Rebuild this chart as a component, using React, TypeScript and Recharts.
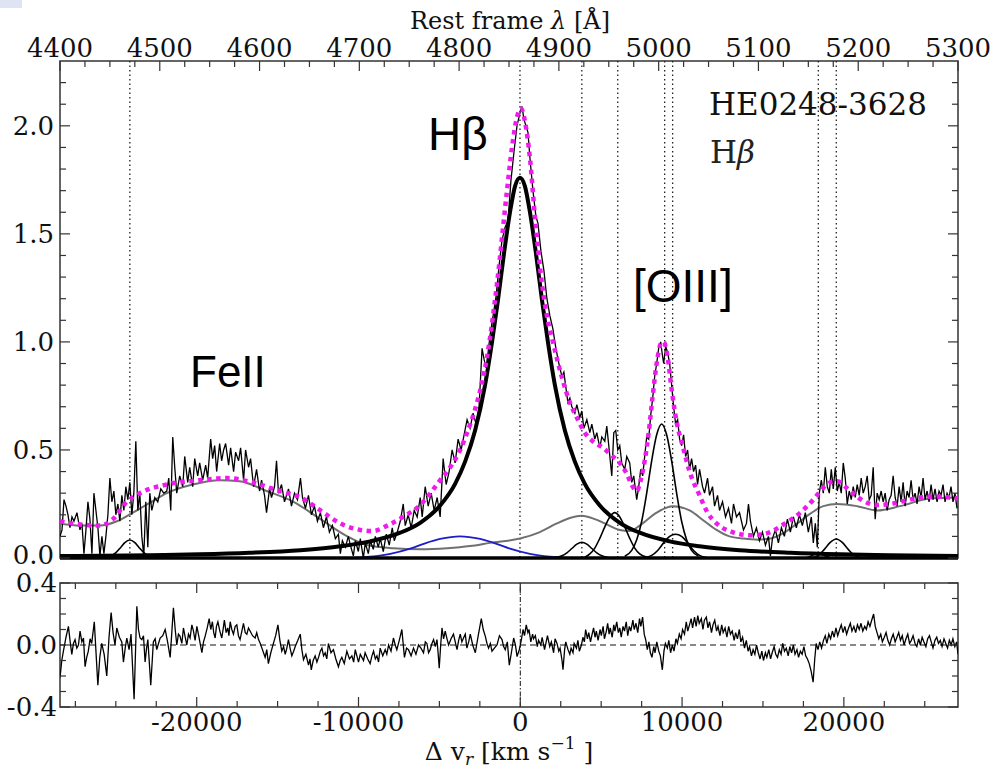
import React from 'react';
import { ComposedChart, Line, XAxis, YAxis, ReferenceLine, ReferenceArea } from 'recharts';

// ---------- data (top panel: rest-frame wavelength in Å, flux) ----------
const observed: [number, number][] = [
  [4400,0.10],[4402,0.13],[4404,0.27],[4406,0.24],[4408,0.20],[4410,0.14],[4412,0.19],[4414,0.17],[4417,0.21],[4420,0.13],
  [4422,0.16],[4424,0.02],[4426,0.13],[4428,0.26],[4430,0.18],[4432,0.02],[4434,0.30],[4436,0.22],[4438,0.14],[4440,0.01],
  [4442,0.10],[4444,0.02],[4446,0.10],[4448,0.20],[4450,0.37],[4452,0.26],[4454,0.31],[4456,0.20],[4458,0.25],[4460,0.17],
  [4462,0.29],[4464,0.22],[4466,0.33],[4468,0.27],[4470,0.35],[4472,0.20],[4474,0.30],[4476,0.54],[4478,0.22],[4480,0.30],
  [4482,0.10],[4484,0.01],[4486,0.26],[4488,0.05],[4490,0.30],[4492,0.22],[4495,0.28],[4498,0.26],[4501,0.32],[4504,0.30],
  [4507,0.31],[4509,0.37],[4511,0.22],[4513,0.56],[4515,0.42],[4517,0.30],[4520,0.38],[4523,0.33],[4525,0.47],[4528,0.35],
  [4530,0.42],[4533,0.33],[4535,0.46],[4538,0.38],[4540,0.44],[4543,0.36],[4546,0.43],[4548,0.37],[4551,0.55],[4553,0.46],
  [4555,0.52],[4557,0.40],[4560,0.53],[4562,0.45],[4564,0.50],[4566,0.53],[4569,0.43],[4571,0.51],[4574,0.40],[4576,0.49],
  [4579,0.45],[4581,0.51],[4584,0.36],[4586,0.50],[4589,0.42],[4591,0.46],[4594,0.33],[4597,0.41],[4600,0.31],[4602,0.36],
  [4605,0.29],[4607,0.21],[4610,0.32],[4612,0.28],[4615,0.33],[4617,0.45],[4619,0.30],[4622,0.34],[4625,0.26],[4629,0.32],
  [4632,0.24],[4635,0.30],[4638,0.27],[4641,0.37],[4643,0.28],[4646,0.23],[4649,0.29],[4652,0.20],[4655,0.24],[4658,0.17],
  [4661,0.21],[4664,0.14],[4667,0.19],[4670,0.12],[4673,0.15],[4676,0.09],[4679,0.11],[4681,0.02],[4683,0.08],[4686,0.05],
  [4689,0.10],[4691,0.06],[4694,0.01],[4696,0.08],[4699,0.03],[4701,0.09],[4704,0.0],[4706,0.07],[4709,0.02],[4711,0.08],
  [4714,0.04],[4716,0.10],[4719,0.05],[4721,0.09],[4724,0.03],[4727,0.11],[4730,0.06],[4733,0.14],[4735,0.08],[4738,0.12],
  [4741,0.17],[4744,0.25],[4746,0.15],[4749,0.20],[4752,0.14],[4755,0.22],[4758,0.19],[4761,0.28],[4763,0.19],[4766,0.33],
  [4769,0.24],[4772,0.30],[4775,0.22],[4778,0.28],[4781,0.19],[4784,0.46],[4787,0.34],[4790,0.40],[4793,0.50],[4796,0.44],
  [4799,0.55],[4802,0.50],[4805,0.57],[4808,0.64],[4811,0.60],[4814,0.67],[4817,0.62],[4820,0.70],[4823,0.97],[4825,0.92],
  [4827,0.88],[4829,0.95],[4831,1.03],[4834,1.12],[4837,1.21],[4840,1.35],[4843,1.47],[4846,1.53],[4849,1.56],[4852,1.75],
  [4855,1.88],[4858,2.00],[4861,2.06],[4863,2.09],[4865,2.03],[4867,2.00],[4869,1.97],[4871,1.85],[4874,1.70],[4877,1.58],
  [4879,1.55],[4882,1.42],[4885,1.33],[4888,1.20],[4891,1.12],[4894,1.06],[4897,0.97],[4900,0.90],[4903,0.84],[4905,0.86],
  [4907,0.79],[4909,0.72],[4911,0.74],[4913,0.70],[4916,0.67],[4918,0.71],[4921,0.65],[4923,0.68],[4925,0.60],[4928,0.64],
  [4931,0.58],[4933,0.62],[4936,0.55],[4938,0.58],[4941,0.51],[4943,0.56],[4946,0.54],[4948,0.61],[4950,0.52],[4953,0.38],
  [4955,0.58],[4957,0.59],[4959,0.50],[4961,0.52],[4963,0.44],[4966,0.41],[4968,0.47],[4971,0.44],[4973,0.35],[4975,0.38],
  [4978,0.27],[4980,0.33],[4982,0.41],[4984,0.38],[4986,0.47],[4988,0.56],[4990,0.55],[4992,0.66],[4994,0.74],[4996,0.84],
  [4998,0.90],[5000,0.97],[5002,1.00],[5004,0.93],[5005,0.90],[5007,0.98],[5009,0.95],[5011,0.90],[5013,0.80],[5015,0.70],
  [5017,0.62],[5019,0.64],[5021,0.55],[5023,0.52],[5025,0.57],[5027,0.47],[5029,0.50],[5031,0.41],[5033,0.46],[5035,0.40],
  [5037,0.43],[5039,0.34],[5041,0.41],[5044,0.33],[5046,0.30],[5049,0.37],[5051,0.29],[5054,0.33],[5056,0.24],[5059,0.29],
  [5061,0.22],[5064,0.26],[5067,0.19],[5070,0.23],[5073,0.16],[5075,0.25],[5078,0.19],[5081,0.21],[5085,0.13],[5088,0.16],
  [5090,0.25],[5092,0.17],[5095,0.10],[5098,0.14],[5101,0.08],[5104,0.12],[5107,0.06],[5110,0.10],[5112,0.01],[5114,0.09],
  [5117,0.13],[5120,0.07],[5123,0.14],[5126,0.10],[5129,0.18],[5132,0.12],[5135,0.19],[5138,0.14],[5141,0.20],[5144,0.15],
  [5147,0.21],[5150,0.12],[5153,0.19],[5155,0.07],[5157,0.16],[5159,0.05],[5161,0.30],[5163,0.36],[5165,0.30],[5167,0.42],
  [5169,0.33],[5171,0.30],[5173,0.41],[5175,0.32],[5177,0.42],[5179,0.31],[5181,0.35],[5183,0.30],[5185,0.44],[5187,0.37],
  [5189,0.25],[5191,0.31],[5193,0.27],[5195,0.33],[5197,0.28],[5199,0.34],[5201,0.29],[5203,0.37],[5205,0.30],[5207,0.33],
  [5209,0.38],[5211,0.27],[5213,0.29],[5215,0.42],[5217,0.18],[5219,0.30],[5221,0.27],[5223,0.31],[5225,0.26],[5227,0.30],
  [5229,0.22],[5231,0.27],[5233,0.29],[5235,0.38],[5237,0.28],[5239,0.24],[5241,0.33],[5243,0.26],[5245,0.35],[5247,0.24],
  [5249,0.31],[5251,0.28],[5253,0.36],[5255,0.27],[5257,0.30],[5259,0.25],[5261,0.33],[5263,0.28],[5265,0.37],[5267,0.27],
  [5269,0.31],[5271,0.26],[5273,0.34],[5275,0.27],[5277,0.32],[5279,0.26],[5281,0.31],[5283,0.29],[5285,0.34],[5287,0.26],
  [5289,0.30],[5291,0.28],[5293,0.33],[5295,0.26],[5297,0.30],[5299,0.23],
];

const totalFit: [number, number][] = [
  [4400,0.17],[4420,0.155],[4440,0.15],[4453,0.18],[4467,0.26],[4480,0.30],[4507,0.34],[4540,0.36],[4567,0.37],[4593,0.35],
  [4620,0.31],[4641,0.28],[4661,0.22],[4681,0.16],[4701,0.13],[4714,0.125],[4728,0.15],[4744,0.19],[4761,0.245],[4781,0.36],
  [4791,0.42],[4801,0.50],[4808,0.58],[4818,0.72],[4828,0.93],[4838,1.27],[4848,1.70],[4853,1.90],[4858,2.04],[4862,2.08],
  [4866,2.02],[4871,1.85],[4876,1.58],[4883,1.27],[4888,1.12],[4894,1.00],[4904,0.82],[4911,0.72],[4918,0.65],[4926,0.58],
  [4934,0.54],[4944,0.51],[4954,0.47],[4961,0.44],[4968,0.39],[4974,0.33],[4978,0.31],[4982,0.36],[4986,0.45],[4990,0.58],
  [4994,0.75],[4998,0.90],[5002,0.99],[5005,1.00],[5009,0.93],[5013,0.78],[5018,0.63],[5024,0.52],[5031,0.40],[5041,0.29],
  [5049,0.21],[5058,0.16],[5074,0.12],[5092,0.105],[5109,0.115],[5125,0.155],[5142,0.21],[5155,0.27],[5164,0.32],[5172,0.35],
  [5179,0.355],[5187,0.33],[5197,0.29],[5207,0.26],[5217,0.245],[5232,0.25],[5247,0.265],[5262,0.28],[5277,0.285],[5292,0.28],
  [5300,0.275],
];

const broadHb: [number, number][] = [
  [4400,0.009],[4440,0.010],[4490,0.013],[4540,0.017],[4590,0.024],[4641,0.036],[4681,0.054],[4711,0.077],[4741,0.117],[4761,0.163],
  [4781,0.243],[4796,0.343],[4806,0.446],[4816,0.59],[4826,0.80],[4833,1.00],[4839,1.195],[4845,1.41],[4851,1.60],[4856,1.72],
  [4861,1.76],[4866,1.72],[4871,1.60],[4877,1.41],[4883,1.195],[4889,1.00],[4896,0.80],[4906,0.59],[4916,0.446],[4926,0.343],
  [4941,0.243],[4961,0.163],[4981,0.117],[5011,0.077],[5041,0.054],[5081,0.036],[5132,0.024],[5182,0.017],[5232,0.013],[5300,0.009],
];

const feIITemplate: [number, number][] = [
  [4400,0.16],[4420,0.15],[4440,0.15],[4457,0.17],[4473,0.21],[4490,0.255],[4507,0.30],[4533,0.34],[4560,0.36],[4580,0.355],
  [4607,0.31],[4634,0.26],[4661,0.18],[4688,0.10],[4708,0.06],[4734,0.045],[4761,0.04],[4788,0.045],[4811,0.055],[4831,0.07],
  [4861,0.09],[4881,0.12],[4898,0.16],[4911,0.185],[4923,0.196],[4936,0.18],[4946,0.16],[4961,0.13],[4971,0.125],[4981,0.15],
  [4998,0.21],[5014,0.24],[5031,0.22],[5046,0.17],[5058,0.13],[5071,0.10],[5085,0.09],[5099,0.085],[5112,0.09],[5125,0.115],
  [5139,0.16],[5152,0.205],[5165,0.24],[5179,0.25],[5199,0.24],[5219,0.22],[5242,0.24],[5272,0.275],[5300,0.28],
];

const blueHb: [number, number][] = [
  [4691,0.0],[4711,0.006],[4731,0.019],[4751,0.043],[4766,0.068],[4781,0.088],[4801,0.10],[4821,0.088],[4836,0.068],[4851,0.043],
  [4871,0.019],[4891,0.006],[4911,0.0],
];

const heI4471: [number, number][] = [
  [4443,0.001],[4450,0.007],[4456,0.025],[4461,0.05],[4465,0.071],[4470,0.083],[4475,0.071],[4479,0.05],[4484,0.025],[4490,0.007],[4497,0.001],
];
const heI4922: [number, number][] = [
  [4896,0.002],[4903,0.01],[4908,0.024],[4913,0.044],[4918,0.064],[4923,0.073],[4928,0.064],[4933,0.044],[4938,0.024],[4943,0.01],[4950,0.002],
];
const oiii4959: [number, number][] = [
  [4926,0.004],[4931,0.019],[4936,0.046],[4941,0.091],[4946,0.144],[4951,0.19],[4956,0.21],[4961,0.19],[4966,0.144],[4971,0.091],
  [4976,0.046],[4981,0.019],[4988,0.004],
];
const oiii5007: [number, number][] = [
  [4966,0.008],[4973,0.035],[4978,0.084],[4983,0.17],[4988,0.30],[4993,0.45],[4998,0.57],[5003,0.62],[5008,0.57],[5013,0.45],
  [5018,0.30],[5023,0.17],[5028,0.084],[5033,0.035],[5040,0.008],
];
const heI5016: [number, number][] = [
  [4986,0.002],[4993,0.012],[4999,0.035],[5005,0.07],[5011,0.10],[5017,0.11],[5023,0.10],[5029,0.07],[5035,0.035],[5041,0.012],[5048,0.002],
];
const feII5160: [number, number][] = [
  [5147,0.0],[5154,0.012],[5160,0.025],[5166,0.012],[5173,0.0],
];
const feII5178: [number, number][] = [
  [5154,0.002],[5160,0.012],[5166,0.04],[5172,0.072],[5178,0.088],[5184,0.072],[5190,0.04],[5196,0.012],[5202,0.002],
];

const lineMarkers = [4470, 4861, 4923, 4959, 5006, 5014, 5160, 5178];

// ---------- bottom panel: velocity (km/s), residual ----------
const residual: [number, number][] = [
  [-28450,-0.21],[-28340,-0.10],[-28240,-0.04],[-28080,0.05],[-27930,0.12],[-27820,0.02],[-27720,-0.06],[-27620,0.01],[-27520,0.035],[-27410,-0.02],
  [-27310,0.0],[-27210,0.09],[-27100,0.02],[-27000,0.045],[-26900,-0.14],[-26800,-0.08],[-26700,-0.04],[-26590,0.04],[-26490,0.01],[-26330,0.15],
  [-26110,-0.26],[-25990,-0.08],[-25870,0.01],[-25720,-0.06],[-25560,-0.2],[-25420,0.05],[-25290,0.21],[-25170,0.08],[-25050,0.0],[-24940,0.11],
  [-24780,0.05],[-24630,0.02],[-24530,-0.11],[-24420,-0.02],[-24320,0.045],[-24180,-0.03],[-24060,0.07],[-23870,-0.35],[-23700,0.25],[-23600,0.10],
  [-23500,0.045],[-23390,0.035],[-23290,0.06],[-23190,-0.11],[-23100,-0.02],[-23020,0.035],[-22840,-0.26],[-22680,0.02],[-22570,0.04],[-22470,-0.03],
  [-22360,0.01],[-22260,0.045],[-22100,0.06],[-21950,0.10],[-21800,0.02],[-21640,-0.08],[-21440,0.24],[-21330,0.10],[-21230,0.0],[-21130,0.07],
  [-21030,0.056],[-20920,0.01],[-20820,0.11],[-20710,0.05],[-20610,0.0],[-20510,0.07],[-20410,0.045],[-20300,0.13],[-20200,0.09],[-20100,0.03],
  [-19990,0.12],[-19840,0.04],[-19680,-0.05],[-19580,0.02],[-19480,0.056],[-19350,0.11],[-19230,0.17],[-19130,0.10],[-19030,0.15],[-18950,0.08],
  [-18860,0.045],[-18780,0.12],[-18690,0.15],[-18570,0.09],[-18450,0.045],[-18370,0.10],[-18290,0.16],[-18180,0.08],[-18080,0.11],[-18010,0.06],
  [-17930,0.15],[-17830,0.10],[-17730,0.07],[-17620,0.12],[-17520,0.13],[-17420,0.06],[-17320,0.035],[-17210,0.09],[-17110,0.14],[-17000,0.08],
  [-16900,0.07],[-16800,0.11],[-16700,0.09],[-16550,0.06],[-16390,0.045],[-16290,0.08],[-16180,0.035],[-16070,0.01],[-15970,-0.02],[-15870,-0.05],
  [-15770,-0.08],[-15670,-0.03],[-15570,-0.12],[-15420,-0.05],[-15260,0.01],[-15120,0.06],[-14980,0.13],[-14860,0.03],[-14740,-0.04],[-14630,-0.01],
  [-14530,-0.06],[-14430,-0.02],[-14330,0.035],[-14230,-0.02],[-14120,-0.07],[-14010,-0.04],[-13910,-0.01],[-13750,0.03],[-13600,0.07],[-13500,-0.03],
  [-13400,-0.095],[-13250,-0.06],[-13090,-0.13],[-13000,-0.09],[-12920,-0.16],[-12800,-0.10],[-12680,-0.07],[-12570,-0.11],[-12470,-0.08],[-12360,-0.04],
  [-12260,-0.02],[-12160,-0.07],[-12060,-0.05],[-11960,-0.09],[-11860,0.01],[-11700,-0.05],[-11550,-0.03],[-11400,-0.09],[-11240,-0.14],[-11130,-0.10],
  [-11030,-0.08],[-10880,-0.12],[-10720,-0.04],[-10560,-0.09],[-10410,-0.07],[-10300,-0.11],[-10200,-0.03],[-10100,-0.07],[-10000,-0.11],[-9890,-0.06],
  [-9790,-0.08],[-9690,-0.10],[-9590,-0.05],[-9430,-0.09],[-9280,-0.12],[-9170,-0.07],[-9070,-0.04],[-8960,-0.09],[-8860,-0.07],[-8760,-0.11],
  [-8660,-0.02],[-8500,-0.07],[-8350,-0.03],[-8250,-0.06],[-8140,0.0],[-7990,-0.04],[-7840,0.045],[-7730,0.0],[-7630,-0.03],[-7480,0.03],
  [-7320,0.10],[-7240,0.01],[-7160,-0.08],[-7030,-0.02],[-6910,-0.03],[-6750,-0.07],[-6600,-0.02],[-6450,-0.06],[-6290,0.0],[-6140,-0.02],
  [-5980,-0.05],[-5870,0.02],[-5770,0.01],[-5670,-0.05],[-5570,-0.03],[-5460,0.01],[-5360,0.035],[-5250,-0.01],[-5150,0.035],[-5080,-0.05],
  [-5010,-0.15],[-4920,0.0],[-4840,0.11],[-4740,0.04],[-4640,0.09],[-4530,0.04],[-4430,0.0],[-4280,0.04],[-4130,0.07],[-4020,0.02],
  [-3910,-0.03],[-3810,0.03],[-3710,0.07],[-3610,0.02],[-3510,0.045],[-3400,0.07],[-3300,-0.02],[-3190,0.02],[-3090,0.07],[-2940,0.0],
  [-2780,-0.05],[-2600,0.06],[-2410,0.17],[-2290,0.10],[-2160,0.056],[-2060,0.01],[-1960,-0.02],[-1850,0.01],[-1750,-0.04],[-1600,-0.02],
  [-1440,0.0],[-1290,0.06],[-1130,0.035],[-1030,-0.01],[-930,-0.03],[-800,0.02],[-680,-0.13],[-550,-0.05],[-410,0.045],[-300,0.0],
  [-200,-0.075],[-60,-0.03],
  [60,0.03],[170,0.10],[260,0.06],[370,0.13],[470,0.08],[540,0.10],[650,0.02],[760,0.07],[820,0.04],[930,0.06],
  [1050,-0.01],[1130,0.03],[1270,0.0],[1350,0.05],[1500,-0.03],[1600,0.02],[1680,0.06],[1820,-0.01],[1920,0.02],[2060,-0.05],
  [2150,0.04],[2270,0.01],[2380,-0.04],[2460,-0.02],[2580,-0.10],[2640,-0.16],[2740,-0.03],[2810,0.02],[2950,-0.03],[3060,-0.06],
  [3140,-0.02],[3260,-0.05],[3330,0.01],[3470,-0.02],[3560,0.03],[3650,-0.04],[3780,0.0],[3870,0.05],[3960,0.02],[4040,0.10],
  [4150,0.04],[4230,0.08],[4340,0.02],[4420,0.06],[4530,0.11],[4620,0.05],[4700,0.09],[4810,0.03],[4930,0.10],[5010,0.06],
  [5120,0.12],[5200,0.04],[5320,0.09],[5400,0.14],[5490,0.07],[5560,0.11],[5680,0.05],[5780,0.13],[5850,0.09],[5960,0.15],
  [6060,0.08],[6150,0.11],[6240,0.05],[6350,0.12],[6440,0.09],[6550,0.15],[6640,0.06],[6740,0.12],[6830,0.09],[6960,0.16],
  [7040,0.10],[7150,0.14],[7260,0.08],[7370,0.17],[7450,0.12],[7560,0.18],[7660,0.07],[7760,0.03],[7850,-0.03],[7950,0.02],
  [8040,-0.05],[8140,-0.08],[8250,-0.01],[8330,-0.05],[8440,0.02],[8560,-0.04],[8660,-0.07],[8780,-0.16],[8880,-0.04],[8970,0.01],
  [9090,-0.02],[9180,0.03],[9290,-0.05],[9400,0.0],[9500,-0.04],[9620,0.04],[9710,0.01],[9830,0.07],[9940,0.04],[10030,0.10],
  [10150,0.07],[10260,0.15],[10350,0.09],[10460,0.13],[10560,0.17],[10650,0.11],[10770,0.18],[10870,0.12],[10970,0.19],[11060,0.14],
  [11190,0.17],[11290,0.10],[11380,0.16],[11500,0.18],[11600,0.11],[11700,0.15],[11820,0.08],[11910,0.13],[12020,0.16],[12130,0.09],
  [12220,0.12],[12340,0.06],[12450,0.13],[12540,0.08],[12660,0.11],[12770,0.05],[12880,0.12],[12990,0.07],[13100,0.09],[13220,0.03],
  [13310,0.08],[13420,0.04],[13540,0.10],[13630,0.02],[13740,0.05],[13860,-0.02],[13970,0.03],[14080,-0.04],[14170,-0.01],[14290,-0.07],
  [14390,-0.03],[14500,-0.06],[14600,0.0],[14710,-0.05],[14820,-0.09],[14930,-0.04],[15030,-0.10],[15150,-0.05],[15240,-0.08],[15360,-0.03],
  [15470,-0.09],[15570,-0.05],[15690,-0.01],[15790,-0.06],[15900,-0.08],[16010,-0.03],[16120,-0.06],[16220,0.01],[16330,-0.04],[16440,-0.02],
  [16560,-0.07],[16660,-0.01],[16770,-0.05],[16880,0.0],[16980,-0.06],[17100,-0.03],[17200,-0.08],[17310,-0.04],[17420,-0.06],[17530,-0.01],
  [17640,-0.07],[17750,-0.09],[17860,-0.12],[17980,-0.17],[18100,-0.24],[18200,-0.09],[18290,0.01],[18400,-0.03],[18510,0.02],[18620,-0.02],
  [18740,0.03],[18850,0.06],[18950,0.01],[19070,0.07],[19180,0.04],[19290,0.09],[19400,0.05],[19510,0.11],[19620,0.06],[19740,0.10],
  [19840,0.13],[19950,0.08],[20060,0.12],[20170,0.07],[20290,0.11],[20400,0.14],[20500,0.09],[20620,0.12],[20730,0.08],[20840,0.13],
  [20950,0.10],[21060,0.14],[21170,0.09],[21290,0.12],[21390,0.10],[21500,0.15],[21610,0.12],[21720,0.16],[21840,0.20],[21940,0.12],
  [22050,0.08],[22160,0.04],[22280,0.07],[22380,0.02],[22500,0.05],[22610,0.08],[22720,0.03],[22830,0.0],[22940,0.04],[23050,0.07],
  [23170,0.02],[23280,0.05],[23390,0.08],[23500,0.03],[23610,0.06],[23720,0.0],[23840,0.04],[23950,0.07],[24060,0.01],[24170,0.03],
  [24280,0.06],[24400,0.01],[24510,-0.01],[24620,0.04],[24730,0.0],[24840,0.05],[24950,0.02],[25070,-0.01],[25180,0.04],[25290,0.06],
  [25400,0.02],[25510,-0.02],[25630,0.03],[25740,0.05],[25850,0.01],[25960,0.03],[26070,-0.01],[26190,0.04],[26300,0.01],[26410,-0.02],
  [26520,0.03],[26630,0.0],[26740,0.04],[26860,-0.01],[26970,0.02],[27055,-0.06],
];

// ---------- ticks ----------
const lambdaTicks = [4400,4425,4450,4475,4500,4525,4550,4575,4600,4625,4650,4675,4700,4725,4750,4775,4800,4825,4850,4875,
  4900,4925,4950,4975,5000,5025,5050,5075,5100,5125,5150,5175,5200,5225,5250,5275,5300];
const fluxTicks = [0,0.1,0.2,0.3,0.4,0.5,0.6,0.7,0.8,0.9,1.0,1.1,1.2,1.3,1.4,1.5,1.6,1.7,1.8,1.9,2.0,2.1,2.2];
const velocityTicks = [-27500,-25000,-22500,-20000,-17500,-15000,-12500,-10000,-7500,-5000,-2500,0,2500,5000,7500,10000,
  12500,15000,17500,20000,22500,25000];
const residualTicks = [-0.4,-0.3,-0.2,-0.1,0,0.1,0.2,0.3,0.4];

const LAMBDA_DOMAIN: [number, number] = [4400, 5300];
const FLUX_DOMAIN: [number, number] = [0, 2.3];
const VELOCITY_DOMAIN: [number, number] = [-28450, 27055];
const RESIDUAL_DOMAIN: [number, number] = [-0.4, 0.4];

// ---------- layout / style ----------
const SERIF = '"DejaVu Serif", serif';
const SANS = '"Liberation Sans", Arial, sans-serif';
const TICK_FONT = 26;
const PLOT_R = 958;
const RES_T = 23;
const FRAME = '#333';
const TXT = '#111';

const pts = (a: [number, number][]) => a.map(([x, y]) => ({ x, y }));

function LambdaTick(props: any) {
  const { x, y, payload } = props;
  const v = payload.value as number;
  const major = v % 100 === 0;
  const edge = y + 4;
  return (
    <g>
      {major && (
        <text x={x} y={y} textAnchor="middle" fontFamily={SERIF} fontSize={TICK_FONT} fill={TXT}>{String(v)}</text>
      )}
      <line x1={x} x2={x} y1={edge} y2={edge + (major ? 10 : 6)} stroke={FRAME} strokeWidth={1.2} />
    </g>
  );
}

function FluxTick(props: any) {
  const { x, y, payload } = props;
  const v = payload.value as number;
  const major = Math.abs(v * 2 - Math.round(v * 2)) < 1e-6;
  const edge = x + 6;
  const len = major ? 10 : 6;
  const lift = v === 0 ? -3 : 0;
  return (
    <g>
      {major && (
        <text x={x} y={y + 9 + lift} textAnchor="end" fontFamily={SERIF} fontSize={TICK_FONT} fill={TXT}>{v.toFixed(1)}</text>
      )}
      <line x1={edge} x2={edge + len} y1={y} y2={y} stroke={FRAME} strokeWidth={1.2} />
      <line x1={PLOT_R - len} x2={PLOT_R} y1={y} y2={y} stroke={FRAME} strokeWidth={1.2} />
    </g>
  );
}

function VelocityTick(props: any) {
  const { x, y, payload } = props;
  const v = payload.value as number;
  const major = v % 10000 === 0;
  const bottom = y - 6;
  const len = major ? 10 : 6;
  return (
    <g>
      {major && (
        <text x={x} y={y + 18} textAnchor="middle" fontFamily={SERIF} fontSize={TICK_FONT} fill={TXT}>{String(v)}</text>
      )}
      <line x1={x} x2={x} y1={bottom} y2={bottom - len} stroke={FRAME} strokeWidth={1.2} />
      <line x1={x} x2={x} y1={RES_T} y2={RES_T + len} stroke={FRAME} strokeWidth={1.2} />
    </g>
  );
}

function ResidualTick(props: any) {
  const { x, y, payload } = props;
  const v = payload.value as number;
  const major = Math.abs(v * 2.5 - Math.round(v * 2.5)) < 1e-6;
  const edge = x + 6;
  const len = major ? 10 : 6;
  return (
    <g>
      {major && (
        <text x={x + 3} y={y + 9} textAnchor="end" fontFamily={SERIF} fontSize={TICK_FONT} fill={TXT}>{v.toFixed(1)}</text>
      )}
      <line x1={edge} x2={edge + len} y1={y} y2={y} stroke={FRAME} strokeWidth={1.2} />
      <line x1={PLOT_R - len} x2={PLOT_R} y1={y} y2={y} stroke={FRAME} strokeWidth={1.2} />
    </g>
  );
}

const thin = { stroke: '#000', strokeWidth: 1.6, dot: false, activeDot: false, isAnimationActive: false, type: 'monotone' as const };
const components = [heI4471, heI4922, oiii4959, oiii5007, heI5016, feII5160, feII5178];

export default function App() {
  return (
    <div style={{ position: 'absolute', left: 0, top: 0, width: 995, height: 770, background: '#fff', overflow: 'hidden' }}>
      <div style={{ position: 'absolute', left: 0, top: 0 }}>
        <ComposedChart width={995} height={578} margin={{ top: 0, right: 0, bottom: 20, left: 0 }}>
          <XAxis
            xAxisId="lam"
            dataKey="x"
            type="number"
            orientation="top"
            domain={LAMBDA_DOMAIN}
            allowDataOverflow
            ticks={lambdaTicks}
            interval={0}
            height={61}
            tickSize={0}
            tickMargin={4}
            tickLine={false}
            axisLine={false}
            tick={<LambdaTick />}
          />
          <YAxis
            yAxisId="flux"
            type="number"
            domain={FLUX_DOMAIN}
            allowDataOverflow
            ticks={fluxTicks}
            interval={0}
            width={60}
            tickSize={0}
            tickMargin={6}
            tickLine={false}
            axisLine={false}
            tick={<FluxTick />}
          />
          <YAxis yAxisId="right" orientation="right" width={37} type="number" domain={FLUX_DOMAIN} tick={false} tickLine={false} axisLine={false} />
          {lineMarkers.map((l) => (
            <ReferenceLine key={l} xAxisId="lam" yAxisId="flux" x={l} stroke="#222" strokeWidth={1.3} strokeDasharray="1.5 3" />
          ))}
          <Line xAxisId="lam" yAxisId="flux" data={pts(feIITemplate)} dataKey="y" stroke="#707070" strokeWidth={2} dot={false} activeDot={false} isAnimationActive={false} type="monotone" />
          <Line xAxisId="lam" yAxisId="flux" data={pts(blueHb)} dataKey="y" stroke="#1c1cc8" strokeWidth={1.8} dot={false} activeDot={false} isAnimationActive={false} type="monotone" />
          {components.map((c, i) => (
            <Line key={'c' + i} xAxisId="lam" yAxisId="flux" data={pts(c)} dataKey="y" {...thin} />
          ))}
          <Line xAxisId="lam" yAxisId="flux" data={pts(broadHb)} dataKey="y" stroke="#000" strokeWidth={4} dot={false} activeDot={false} isAnimationActive={false} type="monotone" />
          <Line xAxisId="lam" yAxisId="flux" data={pts(observed)} dataKey="y" stroke="#000" strokeWidth={1.3} dot={false} activeDot={false} isAnimationActive={false} type="linear" />
          <Line xAxisId="lam" yAxisId="flux" data={pts(totalFit)} dataKey="y" stroke="#ee1aee" strokeWidth={4.5} strokeDasharray="4.5 4.5" dot={false} activeDot={false} isAnimationActive={false} type="monotone" />
          <ReferenceLine xAxisId="lam" yAxisId="flux" y={0} stroke="#000" strokeWidth={3.5} />
          <ReferenceArea xAxisId="lam" yAxisId="flux" x1={4400} x2={5300} y1={0} y2={2.3} fill="none" stroke={FRAME} strokeWidth={1.5} />
        </ComposedChart>
      </div>

      <div style={{ position: 'absolute', left: 0, top: 560 }}>
        <ComposedChart width={995} height={210} margin={{ top: RES_T, right: 37, bottom: 0, left: 0 }}>
          <XAxis
            xAxisId="vel"
            dataKey="x"
            type="number"
            domain={VELOCITY_DOMAIN}
            allowDataOverflow
            ticks={velocityTicks}
            interval={0}
            height={63}
            tickSize={0}
            tickMargin={6}
            tickLine={false}
            axisLine={false}
            tick={<VelocityTick />}
          />
          <YAxis
            yAxisId="res"
            type="number"
            domain={RESIDUAL_DOMAIN}
            allowDataOverflow
            ticks={residualTicks}
            interval={0}
            width={60}
            tickSize={0}
            tickMargin={6}
            tickLine={false}
            axisLine={false}
            tick={<ResidualTick />}
          />
          <ReferenceLine xAxisId="vel" yAxisId="res" y={0} stroke="#111" strokeWidth={1} strokeDasharray="6 4" />
          <ReferenceLine xAxisId="vel" yAxisId="res" x={0} stroke="#111" strokeWidth={1} strokeDasharray="5 2 1.5 2" />
          <Line xAxisId="vel" yAxisId="res" data={pts(residual)} dataKey="y" stroke="#000" strokeWidth={1.3} dot={false} activeDot={false} isAnimationActive={false} type="linear" />
          <ReferenceArea xAxisId="vel" yAxisId="res" x1={VELOCITY_DOMAIN[0]} x2={VELOCITY_DOMAIN[1]} y1={-0.4} y2={0.4} fill="none" stroke={FRAME} strokeWidth={1.5} />
        </ComposedChart>
      </div>

      <svg width={995} height={770} style={{ position: 'absolute', left: 0, top: 0, pointerEvents: 'none' }}>
        <rect x={0} y={0} width={22} height={8} fill="#dfe4f4" />
        <text x={510} y={29} textAnchor="middle" fontFamily={SERIF} fontSize={24} fill={TXT}>
          Rest frame <tspan fontStyle="italic">λ</tspan> [Å]
        </text>
        <text x={509} y={760} textAnchor="middle" fontFamily={SERIF} fontSize={25} fill={TXT}>
          Δ v<tspan fontStyle="italic" fontSize={17} dy={5}>r</tspan>
          <tspan dy={-5}> [km s</tspan>
          <tspan fontSize={17} dy={-11}>−1</tspan>
          <tspan dy={11}> ]</tspan>
        </text>
        <text x={709} y={115} fontFamily={SERIF} fontSize={31} fill={TXT}>HE0248-3628</text>
        <text x={710} y={163} fontFamily={SERIF} fontSize={31} fill="#222">
          H<tspan fontStyle="italic">β</tspan>
        </text>
        <text x={428} y={150} fontFamily={SANS} fontSize={46} fill="#000">Hβ</text>
        <text x={633} y={302} fontFamily={SANS} fontSize={46} fill="#000">[OIII]</text>
        <text x={190} y={387} fontFamily={SANS} fontSize={44} fill="#000">FeII</text>
      </svg>
    </div>
  );
}
